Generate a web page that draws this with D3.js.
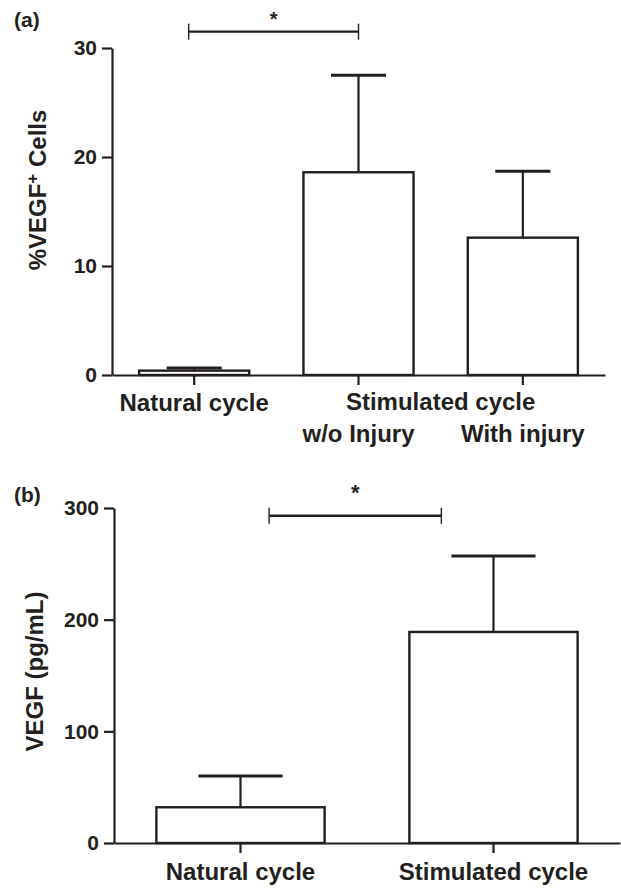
<!DOCTYPE html>
<html>
<head>
<meta charset="utf-8">
<script src="https://cdn.jsdelivr.net/npm/d3@7"></script>
<style>
  body { margin: 0; background: #fff; }
  svg text { font-family: "Liberation Sans", Arial, sans-serif; font-weight: bold; fill: #231f20; }
</style>
</head>
<body>
<div id="chart"></div>
<script>
// panel (a): % VEGF+ cells
const catsA = ["Natural cycle", "w/o Injury", "With injury"];
const meanA = [0.4, 18.6, 12.6];
const errA = [0.25, 8.9, 6.1];
const ticksA = [0, 10, 20, 30];

// panel (b): VEGF concentration
const catsB = ["Natural cycle", "Stimulated cycle"];
const meanB = [32, 189];
const errB = [28, 68];
const ticksB = [0, 100, 200, 300];

const ink = "#231f20";
const width = 621, height = 888;

const svg = d3.select("#chart").append("svg")
    .attr("width", width).attr("height", height);

// draw one bar panel with error bars
function drawPanel(cats, means, errs, x, y, ticks) {
    const g = svg.append("g");

    const yAxis = g.append("g")
        .attr("transform", `translate(${x.range()[0]},0)`)
        .call(d3.axisLeft(y).tickValues(ticks).tickSize(10).tickSizeOuter(0).tickPadding(5));
    const xAxis = g.append("g")
        .attr("transform", `translate(0,${y(0)})`)
        .call(d3.axisBottom(x).tickSize(10).tickSizeOuter(0).tickFormat(""));

    [yAxis, xAxis].forEach(a => {
        a.attr("font-family", null).attr("font-size", null);
        a.selectAll("path, line").attr("stroke", ink).attr("stroke-width", 2.2);
    });
    yAxis.selectAll("text").style("font-size", "21px").attr("fill", ink);

    const half = x.bandwidth() / 2;
    cats.forEach((c, i) => {
        const cx = x(c) + half;
        g.append("rect")
            .attr("x", x(c)).attr("y", y(means[i]))
            .attr("width", x.bandwidth()).attr("height", y(0) - y(means[i]))
            .attr("fill", "#fff").attr("stroke", ink).attr("stroke-width", 2.4);
        g.append("line")
            .attr("x1", cx).attr("x2", cx)
            .attr("y1", y(means[i])).attr("y2", y(means[i] + errs[i]))
            .attr("stroke", ink).attr("stroke-width", 2.2);
        g.append("line")
            .attr("x1", cx - half / 2).attr("x2", cx + half / 2)
            .attr("y1", y(means[i] + errs[i])).attr("y2", y(means[i] + errs[i]))
            .attr("stroke", ink).attr("stroke-width", 3);
    });
    return g;
}

function bracket(g, x1, x2, yy, starY, starSize) {
    g.append("line").attr("x1", x1).attr("x2", x2).attr("y1", yy).attr("y2", yy)
        .attr("stroke", ink).attr("stroke-width", 2.4);
    [x1, x2].forEach(xx => {
        g.append("line").attr("x1", xx).attr("x2", xx).attr("y1", yy - 8).attr("y2", yy + 8)
            .attr("stroke", ink).attr("stroke-width", 1.4);
    });
    g.append("text").attr("x", (x1 + x2) / 2).attr("y", starY)
        .attr("text-anchor", "middle").style("font-size", starSize + "px").text("*");
}

// ---- panel (a)
const xa = d3.scaleBand().domain(catsA).range([112, 605]).paddingInner(0.33).paddingOuter(0.165);
const ya = d3.scaleLinear().domain([0, 30]).range([375, 48]);
const ga = drawPanel(catsA, meanA, errA, xa, ya, ticksA);

const ca = c => xa(c) + xa.bandwidth() / 2;
ga.append("text").attr("x", ca(catsA[0])).attr("y", 411)
    .attr("text-anchor", "middle").style("font-size", "24px").text("Natural cycle");
ga.append("text").attr("x", (ca(catsA[1]) + ca(catsA[2])) / 2).attr("y", 410)
    .attr("text-anchor", "middle").style("font-size", "24px").text("Stimulated cycle");
catsA.slice(1).forEach(c => {
    ga.append("text").attr("x", ca(c)).attr("y", 442)
        .attr("text-anchor", "middle").style("font-size", "24px").text(c);
});

const titleA = ga.append("text")
    .attr("transform", `translate(46,190) rotate(-90)`)
    .attr("text-anchor", "middle").style("font-size", "24px");
titleA.append("tspan").text("%VEGF");
titleA.append("tspan").attr("dy", -8).style("font-size", "17px").text("+");
titleA.append("tspan").attr("dy", 8).text(" Cells");

bracket(ga, xa(catsA[0]) + 0.45 * xa.bandwidth(), xa(catsA[1]) + 0.5 * xa.bandwidth(), ya(31.5), 26, 20);

ga.append("text").attr("x", 14).attr("y", 27).style("font-size", "21px").text("(a)");

// ---- panel (b)
const xb = d3.scaleBand().domain(catsB).range([114, 620]).paddingInner(0.335).paddingOuter(0.1675);
const yb = d3.scaleLinear().domain([0, 300]).range([843, 508]);
const gb = drawPanel(catsB, meanB, errB, xb, yb, ticksB);

catsB.forEach(c => {
    gb.append("text").attr("x", xb(c) + xb.bandwidth() / 2).attr("y", 880)
        .attr("text-anchor", "middle").style("font-size", "24px").text(c);
});

gb.append("text")
    .attr("transform", `translate(43,${(yb(0) + yb(300)) / 2 - 4}) rotate(-90)`)
    .attr("text-anchor", "middle").style("font-size", "24px").text("VEGF (pg/mL)");

bracket(gb, xb(catsB[0]) + 0.67 * xb.bandwidth(), xb(catsB[1]) + 0.19 * xb.bandwidth(), yb(293), 500, 22);

gb.append("text").attr("x", 14).attr("y", 502).style("font-size", "21px").text("(b)");
</script>
</body>
</html>
